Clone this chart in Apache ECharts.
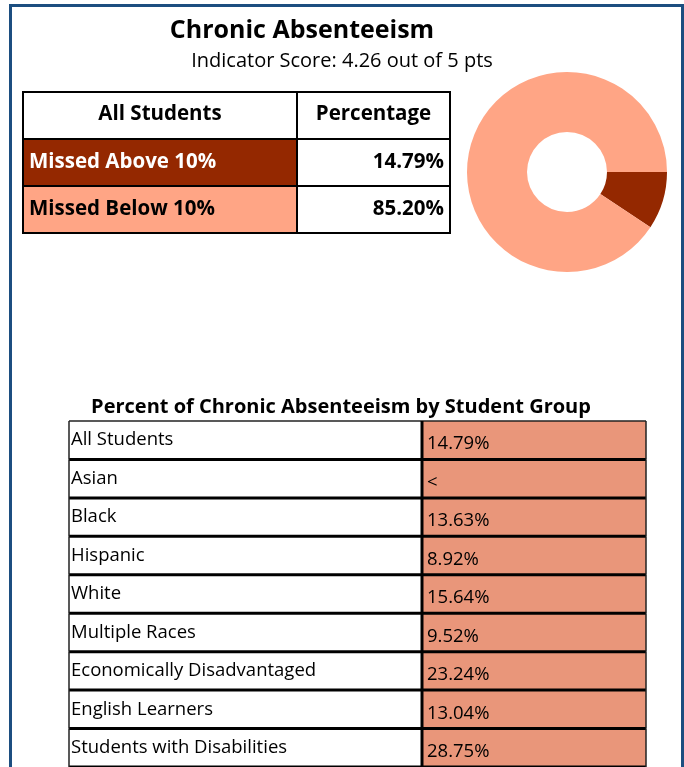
<!DOCTYPE html>
<html>
<head>
<meta charset="utf-8">
<script src="https://cdn.jsdelivr.net/npm/echarts@6/dist/echarts.min.js"></script>
<style>
  html, body { margin: 0; padding: 0; background: #fff; }
  #chart { width: 684px; height: 767px; }
</style>
</head>
<body>
<div id="chart"></div>
<script>
// ---- data ----
const topHeaders = ['All Students', 'Percentage'];
const topCategories = ['Missed Above 10%', 'Missed Below 10%'];
const topValues = [14.79, 85.20];

// donut as it is drawn in the picture (dark slice is about 33 degrees)
const pieLabels = ['Missed Above 10%', 'Missed Below 10%'];
const pieValues = [9.3, 90.7];

const groupNames = [
  'All Students', 'Asian', 'Black', 'Hispanic', 'White', 'Multiple Races',
  'Economically Disadvantaged', 'English Learners', 'Students with Disabilities'
];
// null = suppressed, shown as "<"
const groupValues = [14.79, null, 13.63, 8.92, 15.64, 9.52, 23.24, 13.04, 28.75];

// ---- styles ----
const DARK = '#942800';
const LIGHT = '#ffa585';
const SALMON = '#e9967a';
const FRAME = '#1c4e80';
const FONT = '"Open Sans", "Noto Sans", sans-serif';
const topCols = [274, 153];
const groupCols = [353, 224];

const fmt = v => (v == null ? '<' : v.toFixed(2) + '%');

// cells of the small table: header row + one row per category
const topCells = [];
topHeaders.forEach((h, c) => topCells.push({ col: c, row: 0, text: h, fill: '#fff', color: '#000', align: 'center' }));
topCategories.forEach((name, i) => {
  topCells.push({ col: 0, row: i + 1, text: name, fill: i === 0 ? DARK : LIGHT, color: i === 0 ? '#fff' : '#000', align: 'left' });
  topCells.push({ col: 1, row: i + 1, text: fmt(topValues[i]), fill: '#fff', color: '#000', align: 'right' });
});

const groupCells = [];
groupNames.forEach((name, i) => {
  groupCells.push({ col: 0, row: i, text: name, fill: '#fff' });
  groupCells.push({ col: 1, row: i, text: fmt(groupValues[i]), fill: SALMON });
});

function cellBox(api, cols, col, row) {
  const left = col === 0 ? 0 : cols[0];
  const right = col === 0 ? cols[0] : cols[0] + cols[1];
  const c = api.coord([left, row]);
  const x1 = api.coord([right, row])[0];
  const h = api.size([0, 1])[1];
  return { x: c[0], y: c[1] - h / 2, width: x1 - c[0], height: h };
}

function renderTop(params, api) {
  const cell = topCells[params.dataIndex];
  const b = cellBox(api, topCols, cell.col, cell.row);
  let tx = b.x + b.width / 2;
  if (cell.align === 'left') tx = b.x + 6;
  if (cell.align === 'right') tx = b.x + b.width - 6;
  return {
    type: 'group',
    children: [
      { type: 'rect', shape: b, style: { fill: cell.fill, stroke: '#000', lineWidth: 2 } },
      {
        type: 'text', x: tx, y: b.y + b.height / 2 - (cell.row === 0 ? 1 : 0),
        style: { text: cell.text, fill: cell.color, align: cell.align, verticalAlign: 'middle',
                 font: 'bold 20.5px ' + FONT }
      }
    ]
  };
}

function renderGroup(params, api) {
  const cell = groupCells[params.dataIndex];
  const b = cellBox(api, groupCols, cell.col, cell.row);
  const yb = b.y + b.height;
  const kids = [
    { type: 'rect', shape: b, style: { fill: cell.fill } },
    { type: 'line', z2: 10, shape: { x1: b.x, y1: yb, x2: b.x + b.width, y2: yb }, style: { stroke: '#000', lineWidth: 3 } }
  ];
  if (cell.row === 0) {
    kids.push({ type: 'line', z2: 10, shape: { x1: b.x, y1: b.y, x2: b.x + b.width, y2: b.y }, style: { stroke: '#222', lineWidth: 1.5 } });
  }
  if (cell.col === 0) {
    kids.push({ type: 'line', z2: 10, shape: { x1: b.x, y1: b.y, x2: b.x, y2: yb }, style: { stroke: '#222', lineWidth: 1.5 } });
    kids.push({ type: 'text', x: b.x + 2, y: b.y + b.height / 2,
      style: { text: cell.text, fill: '#000', align: 'left', verticalAlign: 'middle', font: '18.5px ' + FONT } });
  } else {
    kids.push({ type: 'line', z2: 10, shape: { x1: b.x, y1: b.y, x2: b.x, y2: yb }, style: { stroke: '#000', lineWidth: 3 } });
    kids.push({ type: 'line', z2: 10, shape: { x1: b.x + b.width, y1: b.y, x2: b.x + b.width, y2: yb }, style: { stroke: '#222', lineWidth: 1.5 } });
    kids.push({ type: 'text', x: b.x + 5, y: b.y + b.height / 2 + 4,
      style: { text: cell.text, fill: '#000', align: 'left', verticalAlign: 'middle', font: '18.5px ' + FONT } });
  }
  return { type: 'group', children: kids };
}

const chart = echarts.init(document.getElementById('chart'));
chart.setOption({
  animation: false,
  backgroundColor: '#fff',
  title: [
    { text: 'Chronic Absenteeism', left: 302, top: 18, textAlign: 'center', padding: 0,
      textStyle: { fontFamily: FONT, fontSize: 25, fontWeight: 'bold', color: '#000' } },
    { text: 'Indicator Score: 4.26 out of 5 pts', left: 342, top: 51, textAlign: 'center', padding: 0,
      textStyle: { fontFamily: FONT, fontSize: 20, fontWeight: 'normal', color: '#000' } },
    { text: 'Percent of Chronic Absenteeism by Student Group', left: 341, top: 397, textAlign: 'center', padding: 0,
      textStyle: { fontFamily: FONT, fontSize: 20, fontWeight: 'bold', color: '#000' } }
  ],
  graphic: [
    { type: 'rect', shape: { x: 10.5, y: 5.5, width: 672, height: 800 }, style: { fill: 'none', stroke: FRAME, lineWidth: 3 } }
  ],
  grid: [
    { left: 23, top: 92, width: 427, height: 141 },
    { left: 69, top: 421, width: 577, height: 39.2 * groupNames.length }
  ],
  xAxis: [
    { type: 'value', gridIndex: 0, min: 0, max: topCols[0] + topCols[1], show: false },
    { type: 'value', gridIndex: 1, min: 0, max: groupCols[0] + groupCols[1], show: false }
  ],
  yAxis: [
    { type: 'category', gridIndex: 0, inverse: true, show: false, data: ['header'].concat(topCategories) },
    { type: 'category', gridIndex: 1, inverse: true, show: false, data: groupNames }
  ],
  series: [
    {
      type: 'pie', center: [567, 172], radius: [40, 100], startAngle: 0, clockwise: true,
      label: { show: false }, labelLine: { show: false }, silent: true,
      data: pieLabels.map((n, i) => ({ name: n, value: pieValues[i], itemStyle: { color: i === 0 ? DARK : LIGHT } }))
    },
    {
      type: 'custom', xAxisIndex: 0, yAxisIndex: 0, renderItem: renderTop, silent: true,
      data: topCells.map(c => [c.col, c.row])
    },
    {
      type: 'custom', xAxisIndex: 1, yAxisIndex: 1, renderItem: renderGroup, silent: true,
      data: groupCells.map(c => [c.col, c.row])
    }
  ]
});
</script>
</body>
</html>
